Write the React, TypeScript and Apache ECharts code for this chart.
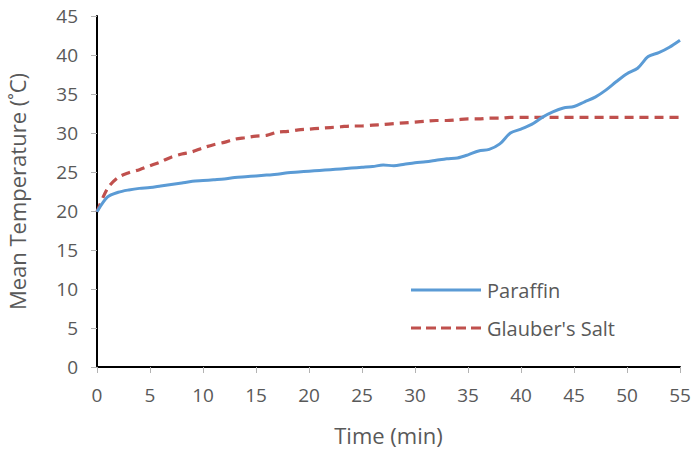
import React, { useEffect, useRef } from "react";
import * as echarts from "echarts";

const times: number[] = Array.from({ length: 56 }, (_, i) => i);

const paraffin: number[] = [
  19.9, 21.8, 22.4, 22.7, 22.9, 23.0, 23.2, 23.4, 23.6, 23.8,
  23.9, 24.0, 24.1, 24.3, 24.4, 24.5, 24.6, 24.7, 24.9, 25.0,
  25.1, 25.2, 25.3, 25.4, 25.5, 25.6, 25.7, 25.9, 25.8, 26.0,
  26.2, 26.3, 26.5, 26.7, 26.8, 27.2, 27.7, 27.9, 28.6, 30.0,
  30.5, 31.1, 32.0, 32.7, 33.2, 33.4, 34.0, 34.6, 35.5, 36.6,
  37.6, 38.3, 39.8, 40.3, 41.0, 41.9,
];

const glauber: number[] = [
  19.9, 22.9, 24.3, 24.9, 25.3, 25.8, 26.3, 26.9, 27.3, 27.6,
  28.1, 28.5, 28.8, 29.2, 29.4, 29.6, 29.7, 30.1, 30.2, 30.4,
  30.5, 30.6, 30.7, 30.8, 30.9, 30.9, 31.0, 31.1, 31.2, 31.3,
  31.4, 31.5, 31.6, 31.6, 31.7, 31.8, 31.8, 31.9, 31.9, 32.0,
  32.0, 32.0, 32.0, 32.0, 32.0, 32.0, 32.0, 32.0, 32.0, 32.0,
  32.0, 32.0, 32.0, 32.0, 32.0, 32.0,
];

const seriesNames = ["Paraffin", "Glauber's Salt"];
const xTitle = "Time (min)";
const yTitle = "Mean Temperature (˚C)";

const FONT = "'Open Sans', 'Noto Sans', sans-serif";
const TXT = "#595959";
const BLUE = "#5b9bd5";
const RED = "#c0504d";

const DASH_ICON =
  "path://M0,0h10v3h-10z M15,0h10v3h-10z M30,0h10v3h-10z M45,0h10v3h-10z M60,0h10v3h-10z";

export default function App() {
  const ref = useRef<HTMLDivElement>(null);
  useEffect(() => {
    if (!ref.current) return;
    const chart = echarts.init(ref.current, undefined, { renderer: "svg" });
    chart.setOption({
      animation: false,
      backgroundColor: "#fff",
      textStyle: { fontFamily: FONT },
      grid: { left: 97, right: 13, top: 16, bottom: 83, containLabel: false, outerBoundsMode: "none" },
      legend: {
        orient: "vertical",
        left: 406,
        top: 275,
        itemWidth: 70,
        itemHeight: 3,
        itemGap: 18,
        textStyle: { color: TXT, fontSize: 20, fontFamily: FONT, padding: [0, 0, 0, 1] },
        data: [
          { name: seriesNames[0], icon: "rect", itemStyle: { color: BLUE } },
          { name: seriesNames[1], icon: DASH_ICON, itemStyle: { color: RED } },
        ],
      },
      xAxis: [
        {
          type: "value",
          min: 0,
          max: 55,
          interval: 5,
          name: xTitle,
          nameLocation: "middle",
          nameGap: 57,
          nameTextStyle: { color: TXT, fontSize: 22, fontFamily: FONT },
          axisLine: { show: true, lineStyle: { color: "#b3b3b3", width: 1.5 } },
          axisTick: { show: true, length: 6, lineStyle: { color: "#b3b3b3" } },
          axisLabel: { color: TXT, fontSize: 19, margin: 18, fontFamily: FONT },
          splitLine: { show: false },
        },
        {
          type: "value",
          position: "top",
          min: 0,
          max: 55,
          axisLine: { show: true, lineStyle: { color: "#000", width: 2 } },
          axisTick: { show: false },
          axisLabel: { show: false },
          splitLine: { show: false },
        },
      ],
      yAxis: [
        {
          type: "value",
          min: 0,
          max: 45,
          interval: 5,
          name: yTitle,
          nameLocation: "middle",
          nameGap: 69,
          nameTextStyle: { color: TXT, fontSize: 22, fontFamily: FONT },
          axisLine: { show: true, lineStyle: { color: "#b3b3b3", width: 1.5 } },
          axisTick: { show: true, length: 6, lineStyle: { color: "#b3b3b3" } },
          axisLabel: { color: TXT, fontSize: 19, margin: 19, fontFamily: FONT },
          splitLine: { show: false },
        },
        {
          type: "value",
          position: "right",
          min: 0,
          max: 45,
          axisLine: { show: true, lineStyle: { color: "#000", width: 2 } },
          axisTick: { show: false },
          axisLabel: { show: false },
          splitLine: { show: false },
        },
      ],
      series: [
        {
          name: seriesNames[0],
          type: "line",
          data: times.map((t, i) => [t, paraffin[i]]),
          symbol: "none",
          smooth: 0.3,
          lineStyle: { color: BLUE, width: 3 },
          itemStyle: { color: BLUE },
          z: 3,
        },
        {
          name: seriesNames[1],
          type: "line",
          data: times.map((t, i) => [t, glauber[i]]),
          symbol: "none",
          smooth: 0.3,
          lineStyle: { color: RED, width: 3.2, type: [9, 6] },
          itemStyle: { color: RED },
          z: 2,
        },
      ],
    });
    return () => chart.dispose();
  }, []);
  return <div ref={ref} style={{ width: 693, height: 450, position: "absolute", left: 0, top: 0 }} />;
}
